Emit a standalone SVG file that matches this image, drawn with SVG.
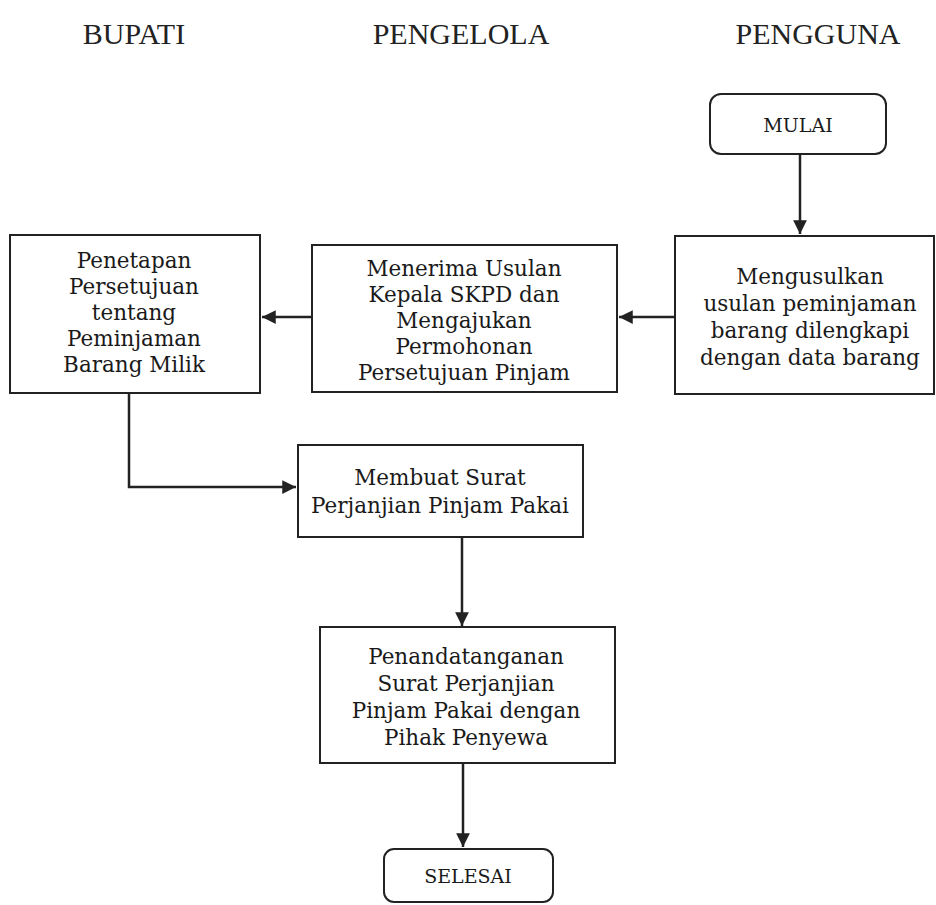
<svg xmlns="http://www.w3.org/2000/svg" width="936" height="905" viewBox="0 0 936 905">
<defs>
<style>
.hdr{font-family:"Liberation Serif","Times New Roman",serif;font-size:30px;fill:#222;text-anchor:middle}
.t{font-family:"DejaVu Serif","Liberation Serif",serif;font-size:21.5px;fill:#1a1a1a;text-anchor:middle}
.ts{font-family:"DejaVu Serif","Liberation Serif",serif;font-size:19px;fill:#1a1a1a;text-anchor:middle}
.box{fill:#fff;stroke:#222;stroke-width:2}
.ln{fill:none;stroke:#222;stroke-width:2.5}
</style>
<marker id="ah" viewBox="0 0 10 10" refX="10" refY="5" markerWidth="5.5" markerHeight="5.5" orient="auto" markerUnits="strokeWidth">
<path d="M0,0 L10,5 L0,10 z" fill="#222"/>
</marker>
</defs>
<rect width="936" height="905" fill="#fff"/>
<g id="headers">
<text class="hdr" x="134" y="44">BUPATI</text>
<text class="hdr" x="461" y="44">PENGELOLA</text>
<text class="hdr" x="818" y="44">PENGGUNA</text>
</g>
<g id="connectors">
<line class="ln" x1="800" y1="154" x2="800" y2="234" marker-end="url(#ah)"/>
<line class="ln" x1="675" y1="317" x2="619" y2="317" marker-end="url(#ah)"/>
<line class="ln" x1="312" y1="317" x2="262" y2="317" marker-end="url(#ah)"/>
<polyline class="ln" points="129,393 129,487 296,487" marker-end="url(#ah)"/>
<line class="ln" x1="462" y1="537" x2="462" y2="626" marker-end="url(#ah)"/>
<line class="ln" x1="463" y1="763" x2="463" y2="847" marker-end="url(#ah)"/>
</g>
<g id="mulai">
<rect class="box" x="710" y="94" width="176" height="60" rx="11"/>
<text class="ts" x="798" y="132">MULAI</text>
</g>
<g id="mengusulkan">
<rect class="box" x="675" y="236" width="259" height="158"/>
<text class="t" x="810" y="284">Mengusulkan</text>
<text class="t" x="810" y="311">usulan peminjaman</text>
<text class="t" x="810" y="338">barang dilengkapi</text>
<text class="t" x="810" y="365">dengan data barang</text>
</g>
<g id="menerima">
<rect class="box" x="312" y="245" width="305" height="147"/>
<text class="t" x="464" y="276">Menerima Usulan</text>
<text class="t" x="464" y="302">Kepala SKPD dan</text>
<text class="t" x="464" y="328">Mengajukan</text>
<text class="t" x="464" y="354">Permohonan</text>
<text class="t" x="464" y="380">Persetujuan Pinjam</text>
</g>
<g id="penetapan">
<rect class="box" x="10" y="235" width="250" height="158"/>
<text class="t" x="134" y="268">Penetapan</text>
<text class="t" x="134" y="294">Persetujuan</text>
<text class="t" x="134" y="320">tentang</text>
<text class="t" x="134" y="346">Peminjaman</text>
<text class="t" x="134" y="372">Barang Milik</text>
</g>
<g id="membuat">
<rect class="box" x="298" y="445" width="285" height="92"/>
<text class="t" x="440" y="485">Membuat Surat</text>
<text class="t" x="440" y="513">Perjanjian Pinjam Pakai</text>
</g>
<g id="penandatanganan">
<rect class="box" x="320" y="627" width="295" height="136"/>
<text class="t" x="466" y="664">Penandatanganan</text>
<text class="t" x="466" y="691">Surat Perjanjian</text>
<text class="t" x="466" y="718">Pinjam Pakai dengan</text>
<text class="t" x="466" y="745">Pihak Penyewa</text>
</g>
<g id="selesai">
<rect class="box" x="384" y="849" width="169" height="53" rx="10"/>
<text class="ts" x="468" y="883">SELESAI</text>
</g>
</svg>
